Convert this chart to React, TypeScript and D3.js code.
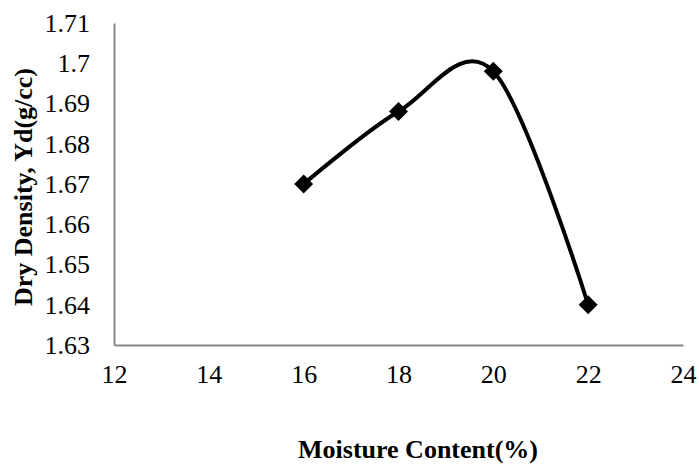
import React, { useRef, useEffect } from 'react';
import * as d3 from 'd3';

const moisture = [16, 18, 20, 22];
const dryDensity = [1.67, 1.688, 1.698, 1.64];
const xTicks = [12, 14, 16, 18, 20, 22, 24];
const yTicks = [1.63, 1.64, 1.65, 1.66, 1.67, 1.68, 1.69, 1.7, 1.71];

const W = 699;
const H = 468;
const FONT = '"Liberation Serif", "Times New Roman", serif';

const App: React.FC = () => {
    const ref = useRef<SVGSVGElement>(null);

    useEffect(() => {
        if (!ref.current) return;
        const svg = d3.select(ref.current);
        svg.selectAll("*").remove();

        const margin = { top: 23, right: 16, bottom: 123, left: 114 };
        const width = W - margin.left - margin.right;
        const height = H - margin.top - margin.bottom;

        const g = svg.append("g").attr("transform", `translate(${margin.left},${margin.top})`);

        const x = d3.scaleLinear().domain([12, 24]).range([0, width]);
        const y = d3.scaleLinear().domain([1.63, 1.71]).range([height, 0]);

        // axes (no tick marks, gray lines)
        const xAxis = g.append("g")
            .attr("font-family", FONT)
            .attr("font-size", 26)
            .attr("transform", `translate(0,${height})`)
            .call(d3.axisBottom(x).tickValues(xTicks).tickSize(0).tickPadding(20).tickFormat(d => String(d)));
        xAxis.attr("font-family", FONT).attr("font-size", 26);
        xAxis.select(".domain").style("stroke", "#868686").style("stroke-width", 2);
        xAxis.selectAll("text").style("fill", "#000");

        const yAxis = g.append("g")
            .call(d3.axisLeft(y).tickValues(yTicks).tickSize(0).tickPadding(24).tickFormat(d => String(+d)));
        yAxis.attr("font-family", FONT).attr("font-size", 26);
        yAxis.select(".domain").style("stroke", "#868686").style("stroke-width", 2);
        yAxis.selectAll("text").style("fill", "#000");

        const pts: [number, number][] = moisture.map((m, i) => [x(m), y(dryDensity[i])]);

        g.append("path")
            .datum(pts)
            .attr("fill", "none")
            .attr("stroke", "#000")
            .attr("stroke-width", 4)
            .attr("d", d3.line().curve(d3.curveCardinal.tension(0)));

        g.selectAll("path.marker")
            .data(pts)
            .enter()
            .append("path")
            .attr("class", "marker")
            .attr("transform", d => `translate(${d[0]},${d[1]}) rotate(45)`)
            .attr("d", d3.symbol().type(d3.symbolSquare).size(180)() as string)
            .attr("fill", "#000");

        svg.append("text")
            .attr("text-anchor", "middle")
            .attr("x", 418)
            .attr("y", 458)
            .attr("font-family", FONT)
            .attr("font-size", 26)
            .attr("font-weight", "bold")
            .text("Moisture Content(%)");

        svg.append("text")
            .attr("text-anchor", "middle")
            .attr("transform", `translate(32,187) rotate(-90)`)
            .attr("font-family", FONT)
            .attr("font-size", 26)
            .attr("font-weight", "bold")
            .text("Dry Density, Yd(g/cc)");
    }, []);

    return (
        <div style={{ position: 'fixed', top: 0, left: 0, background: '#fff' }}>
            <svg ref={ref} width={W} height={H}></svg>
        </div>
    );
};

export default App;
